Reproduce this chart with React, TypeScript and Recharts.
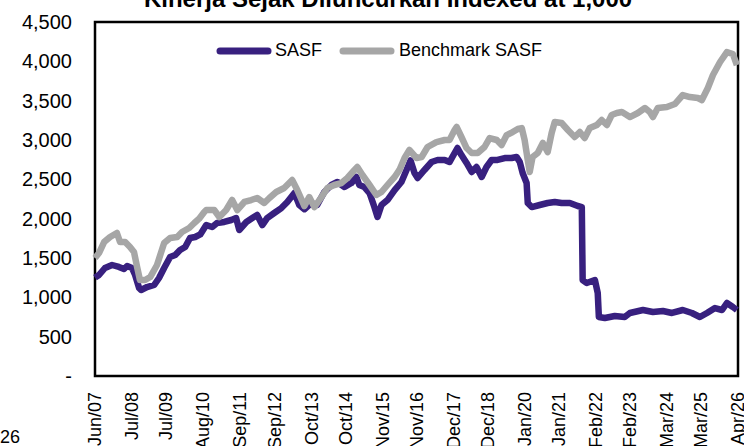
import React from "react"
import { LineChart, Line, XAxis, YAxis, Legend, ReferenceArea } from "recharts"

// months since Jun/07
const tickMonths = [0, 13, 25, 38, 51, 63, 76, 88, 101, 113, 126, 138, 151, 163, 176, 188, 201, 213, 226]
const tickLabels = [
  "Jun/07", "Jul/08", "Jul/09", "Aug/10", "Sep/11", "Sep/12", "Oct/13", "Oct/14", "Nov/15", "Nov/16",
  "Dec/17", "Dec/18", "Jan/20", "Jan/21", "Feb/22", "Feb/23", "Mar/24", "Mar/25", "Apr/26"
]
const yTicks = [0, 500, 1000, 1500, 2000, 2500, 3000, 3500, 4000, 4500]

const sasfMonths = [
  0, 1.4, 3.5, 6, 8.4, 10.2, 11.3, 13, 14.1, 15.5, 16.2, 18.3, 20.8, 22.5, 24.3, 26.4, 28.2, 29.9, 31.7, 33.4,
  35.2, 37, 39.1, 41.2, 42.9, 45.4, 47.9, 49.6, 50.7, 53.2, 55.3, 57, 58.8, 60.5, 63, 65.5, 67.6, 70.1, 71.8, 73.6,
  76, 78.1, 80.6, 83.1, 85.2, 87.7, 90.1, 91.9, 92.9, 94.7, 96.5, 98.2, 99.3, 100.7, 102.8, 105.3, 107.7, 109.5, 110.9, 112.3,
  113.4, 115.8, 118.3, 120.4, 122.9, 124.6, 126.4, 127.4, 128.8, 130.6, 132.4, 134.1, 135.9, 137.6, 139.4, 141.5, 144, 146.4, 148.2, 149.3,
  150.3, 151.7, 152.1, 153.5, 156.3, 159.1, 161.6, 164, 166.9, 169.7, 171.1, 171.4, 172.8, 175.7, 176.7, 177.1, 179.2, 182.7, 186.2, 188,
  192.6, 196.1, 199.6, 202.8, 206.6, 209.8, 212.6, 215.1, 217.9, 220.4, 222.1, 224.2, 225.6
]
const sasfValues = [
  1250, 1284, 1373, 1411, 1386, 1360, 1398, 1373, 1284, 1119, 1093, 1131, 1157, 1246, 1373, 1513, 1538, 1602, 1640, 1754,
  1767, 1800, 1919, 1894, 1945, 1958, 1983, 2008, 1856, 1958, 2008, 2047, 1919, 2008, 2072, 2135, 2212, 2326, 2174, 2120,
  2199, 2174, 2339, 2428, 2466, 2402, 2453, 2530, 2428, 2402, 2326, 2148, 2021, 2174, 2237, 2364, 2466, 2619, 2740, 2580,
  2517, 2619, 2720, 2746, 2746, 2720, 2835, 2898, 2809, 2708, 2593, 2657, 2530, 2657, 2746, 2746, 2771, 2771, 2784, 2720,
  2580, 2453, 2199, 2148, 2174, 2199, 2212, 2199, 2199, 2161, 2148, 1220, 1182, 1220, 1055, 750, 737, 763, 750, 801,
  839, 814, 826, 801, 839, 801, 750, 801, 864, 839, 928, 877, 839
]

const benchMonths = [
  0, 1.4, 3.2, 5.3, 7.7, 8.8, 10.6, 12.3, 13.7, 14.8, 15.8, 17.6, 19.4, 21.8, 24.3, 26.4, 28.9, 30.6, 33.1, 34.9,
  36.6, 38.4, 39.1, 41.9, 43.7, 46.1, 48.2, 50, 52.5, 54.9, 57, 59.5, 61.3, 63.7, 66.5, 69.3, 71.1, 73.6, 75.3, 77.1,
  79.6, 81.7, 84.1, 86.6, 88.7, 91.2, 92.2, 94, 96.5, 98.9, 100.7, 102.8, 105.3, 107, 108.8, 110.5, 113, 114.8, 116.9, 120,
  122.9, 124.6, 126.4, 127.1, 128.8, 130.6, 132.4, 134.5, 136.9, 138.7, 141.2, 142.9, 144.7, 146.8, 148.6, 150, 151, 152.1, 152.8, 153.8,
  155.6, 157.4, 159.1, 160.5, 161.6, 164, 166.2, 168.6, 170.4, 172.1, 173.9, 176.4, 178.1, 179.9, 181.6, 183.4, 185.2, 186.9, 188, 190.8,
  193.3, 195, 196.1, 197.8, 201, 203.8, 206.6, 209.1, 211.9, 213.3, 215.4, 217.2, 219.7, 222.1, 224.2, 225.6
]
const benchValues = [
  1500, 1563, 1703, 1767, 1818, 1703, 1703, 1640, 1576, 1386, 1220, 1220, 1258, 1411, 1691, 1754, 1767, 1830, 1881, 1945,
  2000, 2085, 2110, 2110, 2021, 2110, 2237, 2110, 2212, 2237, 2263, 2199, 2263, 2339, 2390, 2491, 2364, 2160, 2275, 2148,
  2275, 2390, 2428, 2453, 2517, 2619, 2657, 2555, 2428, 2301, 2339, 2428, 2530, 2619, 2771, 2873, 2771, 2784, 2911, 2974,
  3000, 3000, 3127, 3165, 3038, 2898, 2835, 2835, 2911, 3025, 3000, 2936, 3063, 3101, 3140, 3152, 3000, 2746, 2593, 2784,
  2835, 2962, 2847, 3089, 3229, 3216, 3127, 3038, 3101, 3025, 3152, 3191, 3254, 3191, 3318, 3343, 3356, 3318, 3292, 3343,
  3407, 3356, 3292, 3407, 3419, 3457, 3572, 3546, 3534, 3508, 3661, 3826, 3991, 4118, 4093, 3953
]

const SASF_COLOR = "#38207f"
const BENCH_COLOR = "#a6a6a6"
const FONT = "'Liberation Sans', Arial, sans-serif"

const sasfData = sasfMonths.map((m, i) => ({ m, v: sasfValues[i] }))
const benchData = benchMonths.map((m, i) => ({ m, v: benchValues[i] }))

const fmtY = (v: number) => (v === 0 ? "-" : v.toLocaleString("en-US"))

const YTick = ({ x, y, payload }: any) => (
  <text x={x} y={y} dy="0.35em" textAnchor="end" fontSize={20} fontFamily={FONT} fill="#000">
    {fmtY(payload.value)}
  </text>
)

const XTick = ({ x, y, payload }: any) => {
  const idx = tickMonths.indexOf(payload.value)
  return (
    <text
      x={x}
      y={y}
      dy="0.35em"
      textAnchor="end"
      transform={`rotate(-90, ${x}, ${y})`}
      fontSize={18}
      fontFamily={FONT}
      fill="#000"
    >
      {tickLabels[idx]}
    </text>
  )
}

const Swatch = ({ color }: { color: string }) => (
  <svg width={56} height={14} style={{ display: "block" }}>
    <line x1={4} y1={7} x2={52} y2={7} stroke={color} strokeWidth={7} strokeLinecap="round" />
  </svg>
)

const LegendBox = () => (
  <div style={{ display: "flex", alignItems: "center", paddingLeft: 216, fontFamily: FONT, fontSize: 18, color: "#000" }}>
    <Swatch color={SASF_COLOR} />
    <span style={{ marginLeft: 3 }}>SASF</span>
    <span style={{ marginLeft: 17 }}><Swatch color={BENCH_COLOR} /></span>
    <span style={{ marginLeft: 4 }}>Benchmark SASF</span>
  </div>
)

export default function App() {
  return (
    <div style={{ position: "absolute", left: 0, top: 0, width: 744, height: 446, background: "#fff", overflow: "hidden" }}>
      <LineChart width={744} height={446} margin={{ top: 22, right: 6, bottom: 0, left: 0 }}>
        <XAxis
          type="number"
          dataKey="m"
          domain={[0, 226]}
          ticks={tickMonths}
          interval={0}
          axisLine={false}
          tickLine={false}
          tickSize={0}
          tickMargin={16}
          height={70}
          tick={<XTick />}
          allowDuplicatedCategory={false}
        />
        <YAxis
          type="number"
          domain={[0, 4500]}
          ticks={yTicks}
          interval={0}
          axisLine={false}
          tickLine={false}
          tickSize={0}
          tickMargin={23}
          width={95}
          tick={<YTick />}
        />
        <ReferenceArea x1={0} x2={226} y1={0} y2={4500} stroke="#000" strokeWidth={2.5} fill="none" fillOpacity={0} />
        <Legend
          layout="horizontal"
          verticalAlign="middle"
          align="center"
          wrapperStyle={{ top: 40, left: 0, width: 744 }}
          content={() => <LegendBox />}
        />
        <Line
          data={sasfData}
          dataKey="v"
          type="linear"
          stroke={SASF_COLOR}
          strokeWidth={6.5}
          strokeLinejoin="round"
          dot={false}
          isAnimationActive={false}
        />
        <Line
          data={benchData}
          dataKey="v"
          type="linear"
          stroke={BENCH_COLOR}
          strokeWidth={6.5}
          strokeLinejoin="round"
          dot={false}
          isAnimationActive={false}
        />
      </LineChart>
      <svg width={744} height={446} style={{ position: "absolute", left: 0, top: 0, pointerEvents: "none" }}>
        <text x={388} y={7} textAnchor="middle" fontSize={24} fontWeight="bold" fontFamily={FONT} fill="#000">
          Kinerja Sejak Diluncurkan Indexed at 1,000
        </text>
        <text x={0} y={443} fontSize={18} fontFamily={FONT} fill="#000">26</text>
      </svg>
    </div>
  )
}
